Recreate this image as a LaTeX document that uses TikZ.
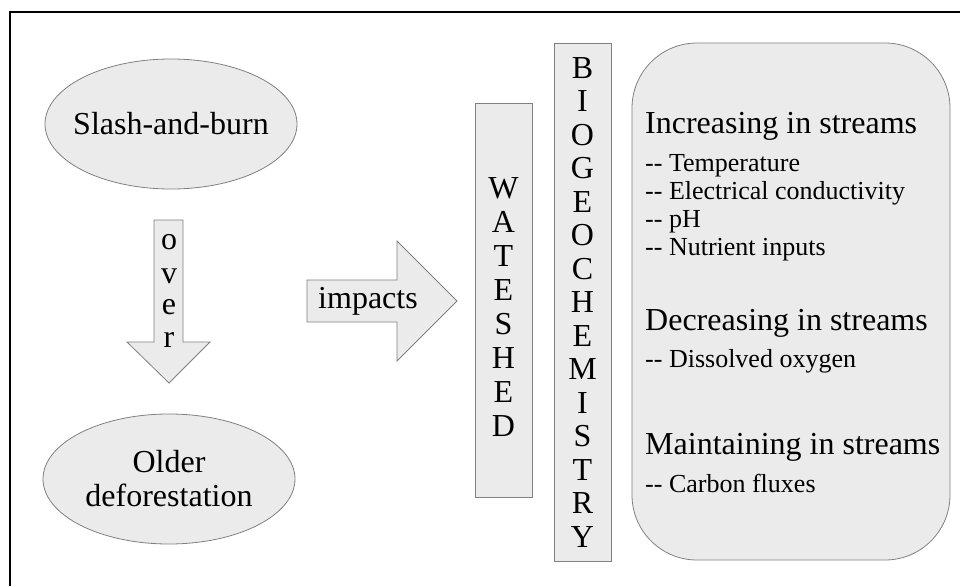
\documentclass[tikz,border=0pt]{standalone}
\usepackage{fontspec}
\setmainfont{Liberation Serif}
\usetikzlibrary{positioning,shapes.geometric}
\tikzstyle{shadebox}=[draw=black!50, fill=black!8, line width=0.8pt]
\tikzstyle{oval}=[shadebox, ellipse, minimum width=252pt, minimum height=130pt, inner sep=0pt]
\tikzstyle{bigtext}=[font=\fontsize{32}{34}\selectfont, inner sep=0pt]
\tikzstyle{itemtext}=[font=\fontsize{26}{28}\selectfont, inner sep=0pt, anchor=base west]
\tikzstyle{headtext}=[bigtext, anchor=base west]

\begin{document}
\begin{tikzpicture}[x=1pt,y=-1pt]
\useasboundingbox (0,0) rectangle (960,586);
%Frame
\draw[line width=1.5pt] (10,586) -- (10,12) -- (960,12);
%Ellipses
\node[oval] (slash) at (171,124) {};
\node[bigtext] (slashtxt) at (slash.center) {Slash-and-burn};
\node[oval] (older) at (169,479) {};
\node[bigtext, align=center] (oldertxt) at (older.center) {Older\\deforestation};
%Block arrows
\draw[shadebox] (154,220) -- (183,220) -- (183,342) -- (210,342) -- (169,383) -- (127,342) -- (154,342) -- cycle;
\foreach \ch/\yy [count=\i] in {o/242,v/276,e/307,r/340}
  \node[bigtext] (over\i) at (169,\yy) {\ch};
\draw[shadebox] (307,280) -- (397,280) -- (397,241) -- (457,301) -- (397,361) -- (397,322) -- (307,322) -- cycle;
\node[bigtext, anchor=base] (impacts) at (368,308) {impacts};
%Vertical boxes
\node[shadebox, minimum width=57pt, minimum height=394pt] (watershed) at (503.5,300) {};
\foreach \ch [count=\i] in {W,A,T,E,S,H,E,D}
  \node[bigtext] (w\i) at (503.5,154+34*\i) {\ch};
\node[shadebox, minimum width=57pt, minimum height=518pt] (biogeo) at (582.5,302) {};
\foreach \ch [count=\i] in {B,I,O,G,E,O,C,H,E,M,I,S,T,R,Y}
  \node[bigtext] (b\i) at (582.5,34.5+33.5*\i) {\ch};
%Effects
\node[shadebox, rounded corners=65pt, minimum width=318pt, minimum height=517pt] (effects) at (791,301.5) {};
\node[headtext] (inc) at (645,133) {Increasing in streams};
\node[itemtext] (inc1) at (645,171) {-{}- Temperature};
\node[itemtext] (inc2) at (645,199) {-{}- Electrical conductivity};
\node[itemtext] (inc3) at (645,227) {-{}- pH};
\node[itemtext] (inc4) at (645,255) {-{}- Nutrient inputs};
\node[headtext] (dec) at (645,330) {Decreasing in streams};
\node[itemtext] (dec1) at (645,367) {-{}- Dissolved oxygen};
\node[headtext] (mnt) at (645,454) {Maintaining in streams};
\node[itemtext] (mnt1) at (645,492) {-{}- Carbon fluxes};
\end{tikzpicture}
\end{document}
